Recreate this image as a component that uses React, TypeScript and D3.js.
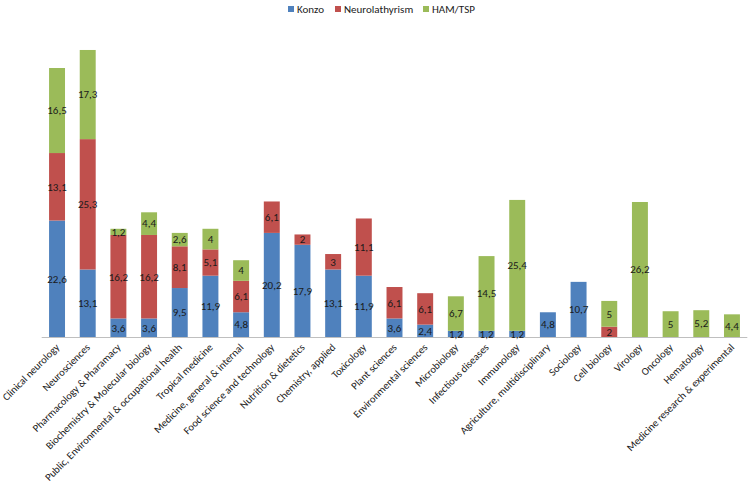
import React, { useEffect, useRef } from 'react';
import * as d3 from 'd3';

const categories = [
  'Clinical neurology', 'Neurosciences', 'Pharmacology & Pharamacy', 'Biochemistry & Molecular biology',
  'Public, Environmental & occupational health', 'Tropical medicine', 'Medicine, general & internal',
  'Food science and technology', 'Nutrition & dietetics', 'Chemistry, applied', 'Toxicology',
  'Plant sciences', 'Environmental sciences', 'Microbiology', 'Infectious diseases', 'Immunology',
  'Agriculture, multidisciplinary', 'Sociology', 'Cell biology', 'Virology', 'Oncology', 'Hematology',
  'Medicine research & experimental',
];

const konzo = [22.6, 13.1, 3.6, 3.6, 9.5, 11.9, 4.8, 20.2, 17.9, 13.1, 11.9, 3.6, 2.4, 1.2, 1.2, 1.2, 4.8, 10.7, 0, 0, 0, 0, 0];
const neurolathyrism = [13.1, 25.3, 16.2, 16.2, 8.1, 5.1, 6.1, 6.1, 2, 3, 11.1, 6.1, 6.1, 0, 0, 0, 0, 0, 2, 0, 0, 0, 0];
const hamTsp = [16.5, 17.3, 1.2, 4.4, 2.6, 4, 4, 0, 0, 0, 0, 0, 0, 6.7, 14.5, 25.4, 0, 0, 5, 26.2, 5, 5.2, 4.4];

const seriesNames = ['Konzo', 'Neurolathyrism', 'HAM/TSP'];
const colors = ['#4F81BD', '#C0504D', '#9BBB59'];

const W = 751, H = 487;
const FONT = "Carlito, 'Liberation Sans Narrow', 'Liberation Sans', Arial, sans-serif";

export default function App() {
  const ref = useRef<SVGSVGElement>(null);

  useEffect(() => {
    const svg = d3.select(ref.current);
    svg.selectAll('*').remove();

    const rows = categories.map((c, i) => ({ cat: c, Konzo: konzo[i], Neurolathyrism: neurolathyrism[i], 'HAM/TSP': hamTsp[i] }));
    const stack = d3.stack<any>().keys(seriesNames)(rows);

    const x = d3.scaleBand().domain(categories).range([41.7, 747.3]).paddingInner(0.48).paddingOuter(0.24);
    const y = d3.scaleLinear().domain([0, 60]).range([337, 337 - 60 * 5.153]);

    const g = svg.append('g');

    stack.forEach((s, si) => {
      g.selectAll('rect.s' + si)
        .data(s)
        .enter().append('rect')
        .attr('x', d => x(d.data.cat)!)
        .attr('width', x.bandwidth())
        .attr('y', d => y(d[1]))
        .attr('height', d => y(d[0]) - y(d[1]))
        .attr('fill', colors[si]);
    });

    // axis line
    g.append('line')
      .attr('x1', 41.7).attr('x2', 747.3)
      .attr('y1', 337.5).attr('y2', 337.5)
      .attr('stroke', '#BFBFBF').attr('stroke-width', 1);

    // segment labels
    stack.forEach((s, si) => {
      g.selectAll('text.l' + si)
        .data(s.filter(d => d[1] - d[0] > 0))
        .enter().append('text')
        .attr('x', d => x(d.data.cat)! + x.bandwidth() / 2)
        .attr('y', d => (y(d[0]) + y(d[1])) / 2)
        .attr('dy', '0.35em')
        .attr('text-anchor', 'middle')
        .attr('font-family', FONT)
        .attr('font-size', 11)
        .attr('fill', '#1a1a1a')
        .text(d => String((d.data as any)[seriesNames[si]]).replace('.', ','));
    });

    // category labels
    g.selectAll('text.cat')
      .data(categories)
      .enter().append('text')
      .attr('transform', d => `translate(${x(d)! + x.bandwidth() / 2 + 3},${348}) rotate(-45)`)
      .attr('text-anchor', 'end')
      .attr('font-family', FONT)
      .attr('font-size', 10.5)
      .attr('fill', '#1a1a1a')
      .text(d => d);

    // legend
    const legendX = [288, 335, 423];
    seriesNames.forEach((n, i) => {
      g.append('rect').attr('x', legendX[i]).attr('y', 6).attr('width', 6).attr('height', 6).attr('fill', colors[i]);
      g.append('text').attr('x', legendX[i] + 9).attr('y', 9).attr('dy', '0.35em')
        .attr('font-family', FONT).attr('font-size', 11).attr('fill', '#1a1a1a').text(n);
    });
  }, []);

  return <svg ref={ref} width={W} height={H} style={{ position: 'absolute', left: 0, top: 0, background: '#fff' }} />;
}
